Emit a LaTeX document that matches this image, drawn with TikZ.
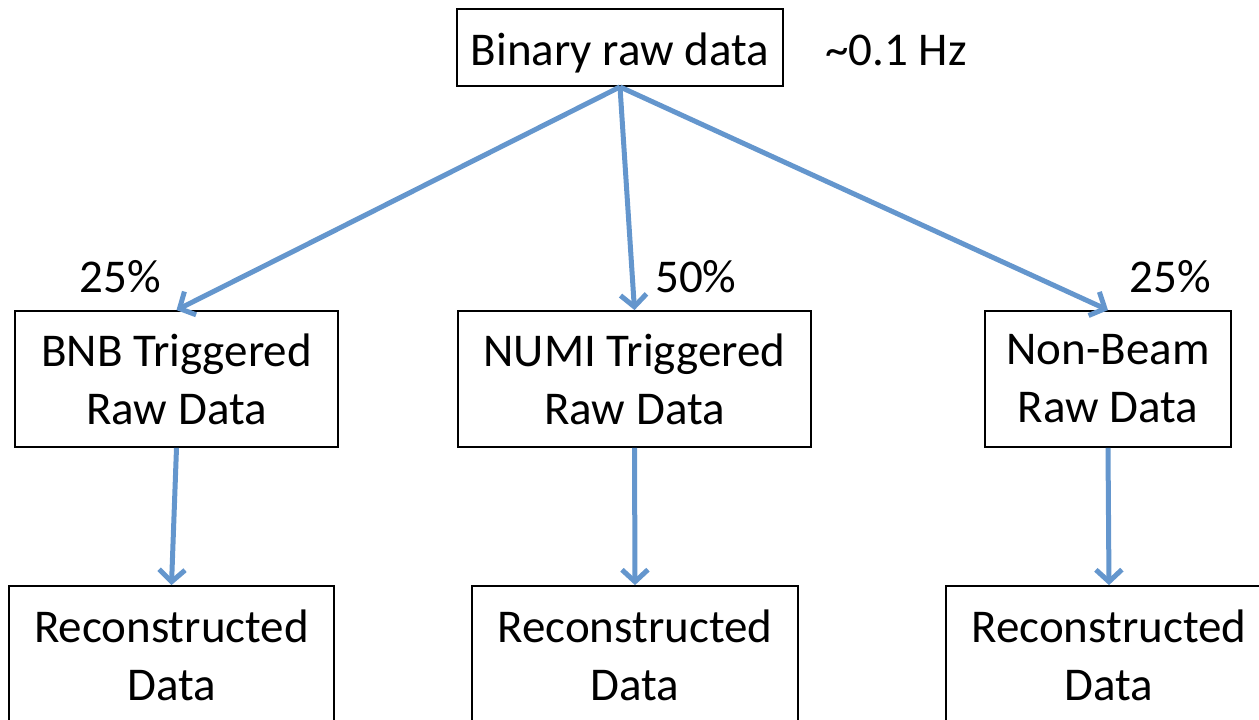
\documentclass[tikz,border=0pt]{standalone}
\usepackage{fontspec}
\setmainfont{Carlito}
\usetikzlibrary{arrows.meta}
\definecolor{flowblue}{RGB}{100,150,205}
\tikzset{
  box/.style={draw=black, line width=1.8pt, align=center, inner sep=0pt,
              font=\fontsize{47}{58}\selectfont},
  lbl/.style={font=\fontsize{47}{58}\selectfont, inner sep=0pt},
  flow/.style={draw=flowblue, line width=5pt,
               -{Straight Barb[length=12pt,width=26pt,line width=5pt]}}
}
\begin{document}
\begin{tikzpicture}[x=1pt,y=-1pt]
\useasboundingbox (0,0) rectangle (1259,720);
\clip (0,0) rectangle (1259,720);

% source and its rate
\node[box, minimum width=326pt, minimum height=77pt, text height=35pt, text depth=0pt]
  (raw) at (620,47.5) {Binary raw data};
\node[lbl, anchor=base west] (rate) at (825,65) {\textasciitilde0.1 Hz};

% triggered streams
\node[box, minimum width=323pt, minimum height=136pt] (bnb) at (176.5,379) {BNB Triggered\\Raw Data};
\node[box, minimum width=353pt, minimum height=136pt] (numi) at (634.5,379) {NUMI Triggered\\Raw Data};
\node[box, minimum width=246pt, minimum height=136pt] (nonbeam) at (1108,379) {Non-Beam\\Raw Data};

% reconstruction outputs
\node[box, minimum width=325pt, minimum height=138pt] (recoA) at (171.5,655) {Reconstructed\\Data};
\node[box, minimum width=326pt, minimum height=138pt] (recoB) at (635,655) {Reconstructed\\Data};
\node[box, minimum width=326pt, minimum height=138pt] (recoC) at (1109,655) {Reconstructed\\Data};

% split fractions
\node[lbl, anchor=base] (fa) at (120,292) {25\%};
\node[lbl, anchor=base west] (fb) at (655,292) {50\%};
\node[lbl, anchor=base] (fc) at (1170,292) {25\%};

% connectors
\draw[flow] (raw.south) -- (bnb.north);
\draw[flow] (raw.south) -- (numi.north);
\draw[flow] (raw.south) -- (nonbeam.north);
\draw[flow] (bnb.south) -- (recoA.north);
\draw[flow] (numi.south) -- (recoB.north);
\draw[flow] (nonbeam.south) -- (recoC.north);
\end{tikzpicture}
\end{document}
